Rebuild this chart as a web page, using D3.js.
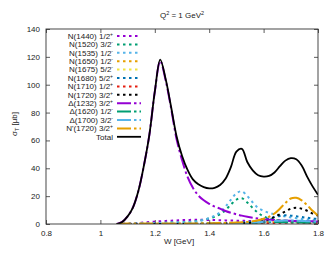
<!DOCTYPE html>
<html>
<head>
<meta charset="utf-8">
<script src="https://cdn.jsdelivr.net/npm/d3@7"></script>
<style>
  body { margin: 0; background: #fff; }
  text { font-family: "Liberation Sans", Arial, sans-serif; fill: #222; }
</style>
</head>
<body>
<div id="chart"></div>
<script>
// W grid [GeV], 0.02 steps
var wGrid = [1.06, 1.08, 1.10, 1.12, 1.14, 1.16, 1.18, 1.20, 1.22, 1.24,
             1.26, 1.28, 1.30, 1.32, 1.34, 1.36, 1.38, 1.40, 1.42, 1.44,
             1.46, 1.48, 1.50, 1.52, 1.54, 1.56, 1.58, 1.60, 1.62, 1.64,
             1.66, 1.68, 1.70, 1.72, 1.74, 1.76, 1.78, 1.80];

var n1440 = [0, 0.1, 0.3, 0.5, 0.8, 1.1, 1.4, 1.7, 2, 2.2, 2.4, 2.6, 2.8, 2.9, 3, 3, 3, 2.9, 2.8, 2.7,
             2.6, 2.5, 2.4, 2.3, 2.2, 2.1, 2, 1.9, 1.8, 1.7, 1.6, 1.5, 1.5, 1.4, 1.4, 1.3, 1.3, 1.2];
var n1520 = [0, 0.1, 0.2, 0.3, 0.4, 0.5, 0.6, 0.7, 0.8, 0.9, 1, 1.1, 1.2, 1.4, 1.8, 2.3, 3, 4, 5.2, 7,
             10, 14, 17.5, 18.5, 15.5, 11.5, 8, 5.5, 4, 3.2, 2.6, 2.2, 2, 1.8, 1.6, 1.5, 1.4, 1.3];
var n1535 = [0, 0.1, 0.2, 0.3, 0.4, 0.5, 0.6, 0.7, 0.8, 0.9, 1, 1.1, 1.2, 1.3, 1.6, 2.1, 3, 4.3, 6, 8.5,
             12.5, 17.5, 22, 23.5, 20, 15.5, 11.5, 9.5, 8, 7, 6.2, 5.4, 4.7, 4.1, 3.6, 3.2, 2.8, 2.5];
var n1650 = [0, 0, 0, 0, 0, 0, 0, 0, 0, 0, 0, 0, 0, 0, 0.1, 0.1, 0.1, 0.2, 0.2, 0.3,
             0.3, 0.4, 0.5, 0.6, 0.7, 0.9, 1.1, 1.4, 1.8, 2.2, 2.5, 2.4, 2.1, 1.8, 1.5, 1.3, 1.1, 1];
var n1675 = [0, 0, 0, 0, 0, 0, 0, 0, 0, 0, 0, 0, 0, 0, 0, 0, 0, 0.1, 0.1, 0.1,
             0.2, 0.2, 0.3, 0.3, 0.4, 0.5, 0.6, 0.8, 1, 1.2, 1.4, 1.5, 1.4, 1.3, 1.1, 1, 0.9, 0.8];
var n1680 = [0, 0, 0, 0, 0, 0, 0, 0, 0, 0, 0, 0.1, 0.1, 0.1, 0.2, 0.2, 0.3, 0.3, 0.4, 0.5,
             0.6, 0.7, 0.8, 1, 1.3, 1.7, 2.3, 3, 4, 5, 5.8, 6.2, 6, 5.5, 5, 4.5, 4, 3.6];
var n1710 = [0, 0, 0, 0, 0, 0, 0, 0, 0, 0, 0, 0, 0, 0, 0, 0, 0, 0, 0.1, 0.1,
             0.1, 0.1, 0.2, 0.2, 0.2, 0.3, 0.3, 0.4, 0.5, 0.6, 0.8, 0.9, 1, 1, 0.9, 0.8, 0.8, 0.7];
var n1720 = [0, 0, 0, 0, 0, 0, 0, 0, 0, 0, 0, 0, 0, 0, 0.1, 0.1, 0.1, 0.1, 0.2, 0.2,
             0.3, 0.3, 0.4, 0.5, 0.6, 1, 1.4, 2, 3.2, 5, 7, 9, 11, 11.7, 11, 9.5, 7.5, 6];
var d1232 = [0, 1.5, 5.5, 12, 24, 42, 64, 95, 117, 103, 83, 61, 46, 34, 26, 20.5, 17, 14.5, 12.5, 11,
             9.3, 8, 7, 6, 5.2, 4.5, 3.9, 3.4, 3.1, 2.8, 2.6, 2.5, 2.3, 2.2, 2.1, 2, 1.9, 1.8];
var d1620 = [0, 0, 0, 0, 0, 0, 0, 0, 0, 0, 0, 0, 0, 0, 0, 0, 0, 0.1, 0.1, 0.1,
             0.2, 0.2, 0.3, 0.4, 0.5, 0.7, 1, 1.3, 1.5, 1.4, 1.3, 1.2, 1.1, 1, 1, 0.9, 0.9, 0.8];
var d1700 = [0, 0, 0, 0, 0, 0, 0, 0, 0.1, 0.1, 0.1, 0.1, 0.2, 0.2, 0.2, 0.3, 0.3, 0.3, 0.4, 0.4,
             0.5, 0.6, 0.7, 0.8, 0.9, 1.1, 1.3, 1.6, 1.9, 2.2, 2.4, 2.5, 2.5, 2.4, 2.2, 2, 1.8, 1.6];
var np1720 = [0, 0.2, 0.3, 0.3, 0.3, 0.3, 0.3, 0.3, 0.3, 0.3, 0.3, 0.3, 0.3, 0.3, 0.4, 0.4, 0.5, 0.5, 0.6, 0.7,
              0.8, 0.9, 1, 1.2, 1.5, 2, 2.7, 3.8, 5.2, 7.5, 11, 15, 18.3, 18.8, 17, 13.5, 9.5, 6];
var total = [0, 1.5, 5.5, 12, 24, 42, 64, 95, 118, 104, 84, 63, 49, 39, 32, 28.5, 26.5, 25.6, 26, 28,
             32.5, 41, 52, 54, 44.5, 38.5, 35, 34, 34.5, 37, 41.5, 45.5, 47.3, 46.5, 42, 34, 27, 21];

var labels = [["N(1440) 1/2", "+"], ["N(1520) 3/2", "-"], ["N(1535) 1/2", "-"], ["N(1650) 1/2", "-"],
              ["N(1675) 5/2", "-"], ["N(1680) 5/2", "+"], ["N(1710) 1/2", "+"], ["N(1720) 3/2", "+"],
              ["\u0394(1232) 3/2", "+"], ["\u0394(1620) 1/2", "-"], ["\u0394(1700) 3/2", "-"],
              ["N'(1720) 3/2", "+"], ["Total", ""]];
var seriesValues = [n1440, n1520, n1535, n1650, n1675, n1680, n1710, n1720, d1232, d1620, d1700, np1720, total];
var colors = ["#9400d3", "#009e73", "#56b4e9", "#e69f00", "#f0e442", "#0072b2", "#e51e10", "#000000",
              "#9400d3", "#009e73", "#56b4e9", "#e69f00", "#000000"];
var xTicks = [0.8, 1, 1.2, 1.4, 1.6, 1.8];
var yTicks = [0, 20, 40, 60, 80, 100, 120, 140];

var width = 332, height = 257;
var plotL = 46, plotR = 318, plotT = 29, plotB = 224;

var svg = d3.select("#chart").append("svg")
    .attr("width", width).attr("height", height);

var x = d3.scaleLinear().domain([0.8, 1.8]).range([plotL, plotR]);
var y = d3.scaleLinear().domain([0, 140]).range([plotB, plotT]);

// curves first, so frame lies on top
var line = d3.line()
    .x((d, i) => x(wGrid[i]))
    .y(d => y(d))
    .curve(d3.curveCatmullRom.alpha(0.5));

svg.append("defs").append("clipPath").attr("id", "clip")
    .append("rect").attr("x", plotL).attr("y", plotT).attr("width", plotR - plotL).attr("height", plotB - plotT);

function dashFor(i) {
    if (i < 8) return "2.5,3.5";
    if (i < 12) return "14,3,2.5,3";
    return null;
}

var g = svg.append("g").attr("clip-path", "url(#clip)");
seriesValues.forEach(function (vals, i) {
    g.append("path")
        .attr("d", line(vals))
        .attr("fill", "none")
        .attr("stroke", colors[i])
        .attr("stroke-width", i == 12 ? 1.8 : 2)
        .attr("stroke-dasharray", dashFor(i));
});

// axes: inside ticks, mirrored
var axisColor = "#333";
svg.append("g").attr("transform", "translate(0," + plotB + ")")
    .call(d3.axisBottom(x).tickValues(xTicks).tickSizeInner(-4).tickSizeOuter(0).tickPadding(6)
        .tickFormat(d3.format("")))
    .call(a => a.select(".domain").remove());
svg.append("g").attr("transform", "translate(0," + plotT + ")")
    .call(d3.axisTop(x).tickValues(xTicks).tickSizeInner(-4).tickSizeOuter(0).tickFormat(""))
    .call(a => a.select(".domain").remove());
svg.append("g").attr("transform", "translate(" + plotL + ",0)")
    .call(d3.axisLeft(y).tickValues(yTicks).tickSizeInner(-4).tickSizeOuter(0).tickPadding(6))
    .call(a => a.select(".domain").remove());
svg.append("g").attr("transform", "translate(" + plotR + ",0)")
    .call(d3.axisRight(y).tickValues(yTicks).tickSizeInner(-4).tickSizeOuter(0).tickFormat(""))
    .call(a => a.select(".domain").remove());

svg.selectAll(".tick line").attr("stroke", axisColor).attr("stroke-width", 0.8);
svg.selectAll(".tick text").attr("font-size", 8).attr("fill", "#222")
    .attr("font-family", "Liberation Sans, Arial, sans-serif");

svg.append("rect")
    .attr("x", plotL).attr("y", plotT).attr("width", plotR - plotL).attr("height", plotB - plotT)
    .attr("fill", "none").attr("stroke", axisColor).attr("stroke-width", 0.9);

// title
var title = svg.append("text").attr("x", 182).attr("y", 18).attr("text-anchor", "middle").attr("font-size", 8);
title.append("tspan").text("Q");
title.append("tspan").attr("font-size", 5.5).attr("dy", -3).text("2");
title.append("tspan").attr("dy", 3).text(" = 1 GeV");
title.append("tspan").attr("font-size", 5.5).attr("dy", -3).text("2");

// axis labels
svg.append("text").attr("x", 179).attr("y", 244).attr("text-anchor", "middle").attr("font-size", 8)
    .text("W [GeV]");
var yl = svg.append("text").attr("transform", "translate(17,124) rotate(-90)")
    .attr("text-anchor", "middle").attr("font-size", 8);
yl.append("tspan").text("\u03c3");
yl.append("tspan").attr("font-size", 5.5).attr("dy", 2).text("T");
yl.append("tspan").attr("dy", -2).text(" [\u03bcb]");

// legend
var legX = 113, legY0 = 36, legStep = 8.4;
labels.forEach(function (lab, i) {
    var yy = legY0 + i * legStep;
    var t = svg.append("text").attr("x", legX).attr("y", yy + 2.8)
        .attr("text-anchor", "end").attr("font-size", 8);
    t.append("tspan").text(lab[0]);
    if (lab[1]) t.append("tspan").attr("font-size", 5).attr("dy", -3).text(lab[1]);
    svg.append("line")
        .attr("x1", 117).attr("x2", 141).attr("y1", yy).attr("y2", yy)
        .attr("stroke", colors[i])
        .attr("stroke-width", i == 12 ? 1.8 : 2)
        .attr("stroke-dasharray", dashFor(i));
});
</script>
</body>
</html>
